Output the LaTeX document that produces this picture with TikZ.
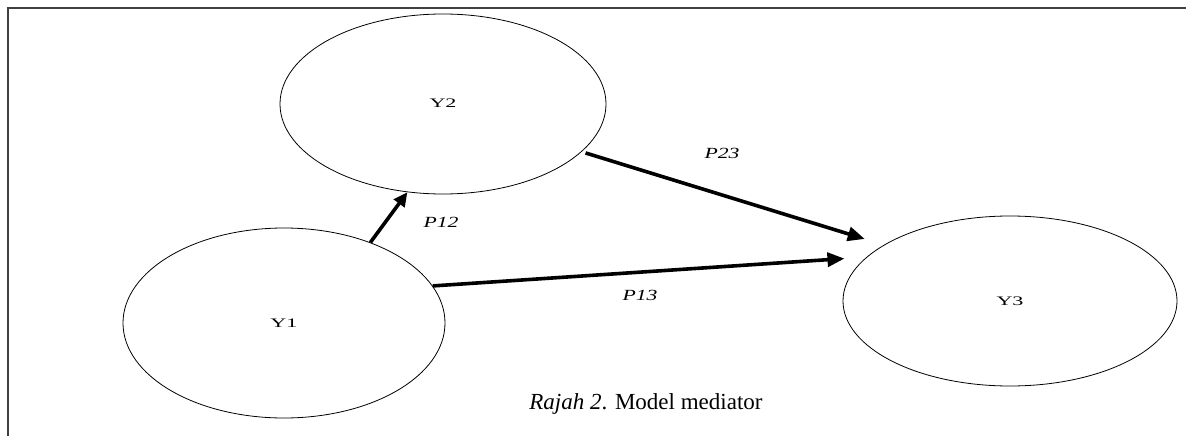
\documentclass[tikz,border=0pt]{standalone}
\usepackage{fontspec}
\setmainfont{Liberation Serif}
\usetikzlibrary{shapes.geometric,arrows.meta}
\newcommand{\wide}[2]{\scalebox{#1}[1]{#2}}
\begin{document}
\begin{tikzpicture}[x=1pt,y=-1pt,
  var/.style={draw,ellipse,line width=0.8pt,inner sep=0pt},
  path/.style={line width=3.6pt,-{Triangle[length=17pt,width=14pt]}},
  lbl/.style={font=\fontsize{13}{15}\selectfont,inner sep=0pt},
  plbl/.style={font=\fontsize{15.5}{17}\selectfont\itshape,inner sep=0pt}]
\useasboundingbox (0,0) rectangle (1186,436);
\coordinate (fl) at (8,436);
\coordinate (ftl) at (8,8);
\coordinate (ftr) at (1186,8);
\draw[line width=1.8pt,black!75] (fl) -- (ftl) -- (ftr);
\node[var,minimum width=326pt,minimum height=180pt] (Y2) at (443,104) {};
\node[var,minimum width=322pt,minimum height=190pt] (Y1) at (284,323) {};
\node[var,minimum width=334pt,minimum height=170pt] (Y3) at (1010,301) {};
\node[lbl] (t2) at (443,103) {\wide{1.7}{Y2}};
\node[lbl] (t1) at (284,323) {\wide{1.7}{Y1}};
\node[lbl] (t3) at (1010,301) {\wide{1.7}{Y3}};
\draw[path,-{Triangle[length=14pt,width=13pt]}] (Y1.43) -- (Y2.-112);
\draw[path,shorten <=4pt,shorten >=20pt] (Y2.-19) -- (Y3.156);
\draw[path,shorten >=22pt] (Y1.14) -- (Y3.163);
\node[plbl] (p12) at (441,222) {\wide{1.4}{P12}};
\node[plbl] (p23) at (722,153) {\wide{1.4}{P23}};
\node[plbl] (p13) at (640,295) {\wide{1.4}{P13}};
\node[font=\fontsize{23}{27}\selectfont,inner sep=0pt,anchor=base] (cap) at (646,409) {\textit{Rajah 2}. Model mediator};
\end{tikzpicture}
\end{document}
